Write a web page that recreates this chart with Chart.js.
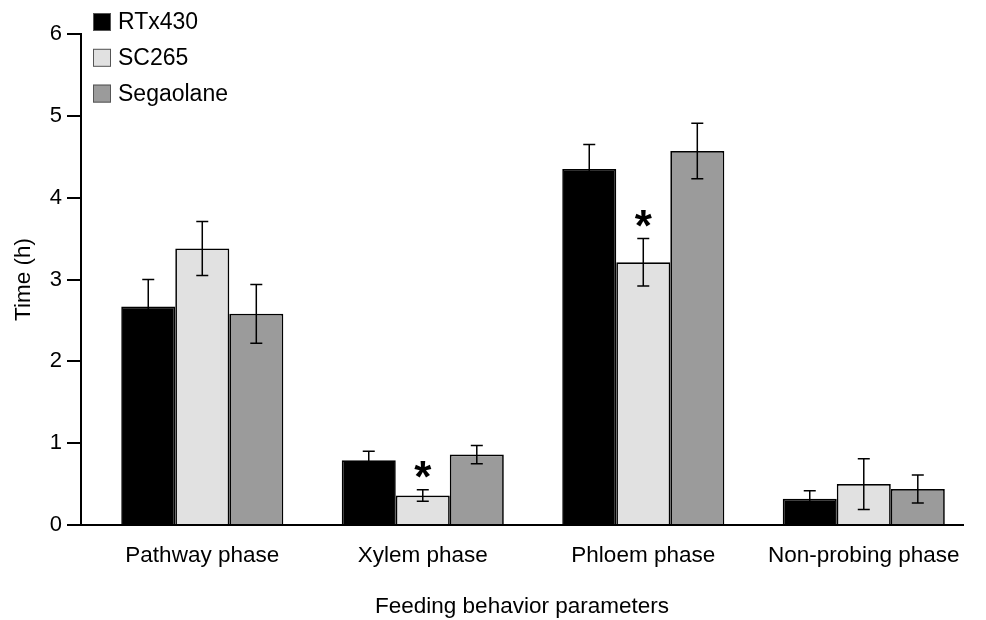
<!DOCTYPE html>
<html>
<head>
<meta charset="utf-8">
<script src="https://cdn.jsdelivr.net/npm/chart.js@4"></script>
<style>
  html, body { margin: 0; padding: 0; background: #fff; }
  #wrap { width: 986px; height: 620px; position: relative; }
</style>
</head>
<body>
<div id="wrap"><canvas id="c"></canvas></div>
<script>
// ---- data ----
const categories = ["Pathway phase", "Xylem phase", "Phloem phase", "Non-probing phase"];
const seriesNames = ["RTx430", "SC265", "Segaolane"];
const rtx430 = [2.67, 0.79, 4.35, 0.32];
const sc265 = [3.38, 0.36, 3.21, 0.50];
const segaolane = [2.58, 0.86, 4.57, 0.44];
const rtx430Err = [0.33, 0.11, 0.30, 0.10];
const sc265Err = [0.33, 0.07, 0.29, 0.31];
const segaolaneErr = [0.36, 0.11, 0.34, 0.17];
const sc265Sig = [false, true, true, false];
const rtx430Sig = [false, false, false, false];
const segaolaneSig = [false, false, false, false];
const yTicks = [0, 1, 2, 3, 4, 5, 6];

const colors = ["#000000", "#e1e1e1", "#9b9b9b"];
const FONT = "'Liberation Sans', Arial, sans-serif";

const values = [rtx430, sc265, segaolane];
const errors = [rtx430Err, sc265Err, segaolaneErr];
const sigs = [rtx430Sig, sc265Sig, segaolaneSig];

const datasets = seriesNames.map((name, s) => ({
  label: name,
  data: categories.map((c, i) => ({ x: i, y: values[s][i] })),
  backgroundColor: colors[s],
  borderColor: "#000",
  borderWidth: 1.7,
  borderSkipped: "bottom",
  categoryPercentage: 0.735,
  barPercentage: 1.0,
  errors: errors[s],
  sig: sigs[s]
}));

const errorBarPlugin = {
  id: "errorBars",
  afterDatasetsDraw(chart) {
    const ctx = chart.ctx;
    const y = chart.scales.y;
    ctx.save();
    ctx.strokeStyle = "#000";
    ctx.lineWidth = 1.5;
    chart.data.datasets.forEach((ds, s) => {
      const meta = chart.getDatasetMeta(s);
      meta.data.forEach((bar, i) => {
        const v = ds.data[i].y, e = ds.errors[i];
        const yt = y.getPixelForValue(v + e);
        const yb = y.getPixelForValue(v - e);
        const x = bar.x;
        const cap = 6;
        ctx.beginPath();
        ctx.moveTo(x, yt); ctx.lineTo(x, yb);
        ctx.moveTo(x - cap, yt); ctx.lineTo(x + cap, yt);
        ctx.moveTo(x - cap, yb); ctx.lineTo(x + cap, yb);
        ctx.stroke();
        if (ds.sig[i]) {
          ctx.fillStyle = "#000";
          ctx.font = "bold 44px " + FONT;
          ctx.textAlign = "center";
          ctx.textBaseline = "alphabetic";
          ctx.fillText("*", x, yt + 2);
        }
      });
    });
    ctx.restore();
  }
};

const legendPlugin = {
  id: "customLegend",
  afterDraw(chart) {
    const ctx = chart.ctx;
    const left = chart.chartArea.left + 12;
    const top = 13;
    const gap = 35.8;
    ctx.save();
    chart.data.datasets.forEach((ds, s) => {
      const yTop = top + s * gap;
      ctx.fillStyle = ds.backgroundColor;
      ctx.fillRect(left, yTop, 18, 18);
      ctx.strokeStyle = "#555";
      ctx.lineWidth = 1;
      ctx.strokeRect(left + 0.5, yTop + 0.5, 17, 17);
      ctx.fillStyle = "#000";
      ctx.font = "23px " + FONT;
      ctx.textAlign = "left";
      ctx.textBaseline = "middle";
      ctx.fillText(ds.label, left + 25, yTop + 10);
    });
    ctx.restore();
  }
};

new Chart(document.getElementById("c"), {
  type: "bar",
  data: { datasets },
  options: {
    responsive: true,
    maintainAspectRatio: false,
    animation: false,
    layout: { padding: { top: 34, right: 23, bottom: 0, left: 0 } },
    plugins: { legend: { display: false }, tooltip: { enabled: false } },
    scales: {
      x: {
        type: "linear",
        min: -0.55,
        max: 3.45,
        offset: false,
        grid: { display: false },
        border: { display: true, color: "#000", width: 2 },
        afterBuildTicks(scale) { scale.ticks = categories.map((c, i) => ({ value: i })); },
        afterFit(scale) { scale.height = 95; },
        ticks: {
          autoSkip: false,
          maxRotation: 0,
          padding: 9,
          color: "#000",
          font: { family: FONT, size: 22.5 },
          callback: (v) => categories[v]
        },
        title: {
          display: true,
          text: "Feeding behavior parameters",
          color: "#000",
          font: { family: FONT, size: 22.5 },
          padding: { top: 0, bottom: 0 }
        }
      },
      y: {
        min: 0,
        max: 6,
        afterBuildTicks(scale) { scale.ticks = yTicks.map(v => ({ value: v })); },
        afterFit(scale) { scale.width = 81; },
        grid: { display: true, drawOnChartArea: false, drawTicks: true, tickLength: 14, color: "#000", lineWidth: 2 },
        border: { display: true, color: "#000", width: 2 },
        ticks: {
          padding: 5,
          color: "#000",
          font: { family: FONT, size: 22 }
        },
        title: {
          display: true,
          text: "Time (h)",
          color: "#000",
          font: { family: FONT, size: 22.5 },
          padding: { top: 10, bottom: 0 }
        }
      }
    }
  },
  plugins: [errorBarPlugin, legendPlugin]
});
</script>
</body>
</html>
